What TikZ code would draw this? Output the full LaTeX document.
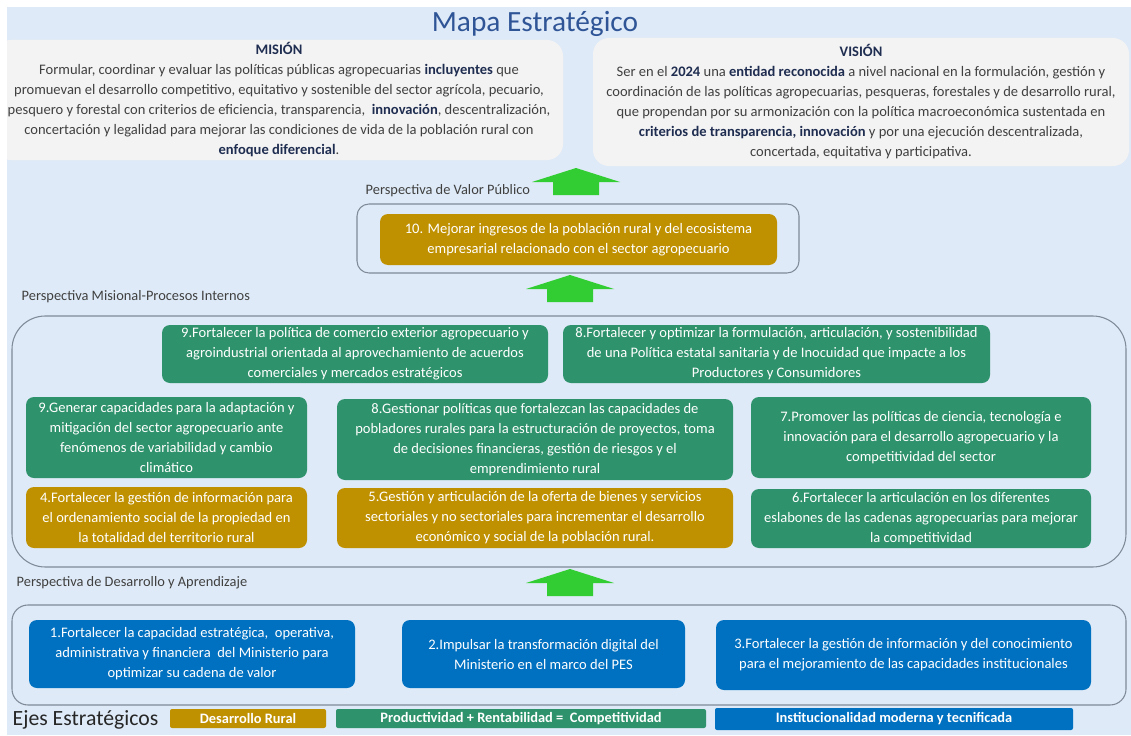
\documentclass[tikz,border=0pt]{standalone}
\usepackage{fontspec}
\setmainfont{Carlito}
\definecolor{fondo}{RGB}{222,234,247}
\definecolor{nube}{RGB}{243,243,244}
\definecolor{oro}{RGB}{191,144,0}
\definecolor{verde}{RGB}{46,146,108}
\definecolor{azul}{RGB}{0,112,192}
\definecolor{flecha}{RGB}{50,205,50}
\definecolor{marcogris}{RGB}{128,138,152}
\definecolor{titulo}{RGB}{47,85,151}
\definecolor{gristexto}{RGB}{64,64,64}
\definecolor{tinta}{RGB}{31,45,80}
\newcommand{\resalta}[1]{\textbf{\color{tinta}#1}}
\begin{document}
\begin{tikzpicture}[x=0.75pt,y=-0.75pt,
  caja/.style={rounded corners=6pt,text=white,align=center,inner sep=0pt,
    font=\fontsize{10.9}{15}\selectfont},
  oro/.style={caja,fill=oro},
  verde/.style={caja,fill=verde},
  azul/.style={caja,fill=azul},
  nube/.style={fill=nube,rounded corners=12pt,align=center,inner sep=0pt,
    text=gristexto,font=\fontsize{10.9}{15}\selectfont},
  marco/.style={draw=marcogris,line width=0.8pt},
  perspectiva/.style={anchor=west,text=gristexto,font=\fontsize{10.8}{12}\selectfont},
  eje/.style={text=white,inner sep=0pt,rounded corners=1.5pt,
    font=\bfseries\fontsize{10.8}{11}\selectfont}]
\useasboundingbox (0,0) rectangle (1131,735);
\fill[white] (0,0) rectangle (1131,735);
\begin{scope}
\clip (7,7) rectangle (1131,735);
\fill[fondo] (7,7) rectangle (1131,735);

% titulo, mision y vision
\node[text=titulo,font=\fontsize{22}{24}\selectfont] (titulo) at (535,24) {Mapa Estratégico};
\node[nube,minimum width=426pt,minimum height=90pt] (mision) at (279,100)
  {\textbf{\color{tinta}MISIÓN}\\
   Formular, coordinar y evaluar las políticas públicas agropecuarias \resalta{incluyentes} que\\
   promuevan el desarrollo competitivo, equitativo y sostenible del sector agrícola, pecuario,\\
   pesquero y forestal con criterios de eficiencia, transparencia,\ \ \resalta{innovación}, descentralización,\\
   concertación y legalidad para mejorar las condiciones de vida de la población rural con\\
   \resalta{enfoque diferencial}.};
\node[nube,minimum width=402pt,minimum height=96pt] (vision) at (861,102)
  {\textbf{\color{tinta}VISIÓN}\\
   Ser en el \resalta{2024} una \resalta{entidad reconocida} a nivel nacional en la formulación, gestión y\\
   coordinación de las políticas agropecuarias, pesqueras, forestales y de desarrollo rural,\\
   que propendan por su armonización con la política macroeconómica sustentada en\\
   \resalta{criterios de transparencia, innovación} y por una ejecución descentralizada,\\
   concertada, equitativa y participativa.};

% flechas verdes
\foreach \ax/\ay in {576/168,570/275,570/569}
  \fill[flecha] (\ax,\ay) -- ++(44,14) -- ++(-21,0) -- ++(0,13) -- ++(-46,0)
    -- ++(0,-13) -- ++(-21,0) -- cycle;

% perspectiva de valor publico
\node[perspectiva] (pvalor) at (361,191) {Perspectiva de Valor Público};
\node[marco,rounded corners=9pt,minimum width=331.5pt,minimum height=51.75pt] (valor) at (578,238.5) {};
\node[oro,minimum width=297.75pt,minimum height=38.25pt] (obj10) at (578.5,239.5)
  {10. Mejorar ingresos de la población rural y del ecosistema\\
   empresarial relacionado con el sector agropecuario};

% perspectiva misional
\node[perspectiva] (pmisional) at (17,297) {Perspectiva Misional-Procesos Internos};
\node[marco,rounded corners=25pt,minimum width=835.5pt,minimum height=188.25pt] (misional) at (569,441.5) {};
\node[verde,minimum width=289.5pt,minimum height=43.5pt] (obj9c) at (355,354)
  {9.Fortalecer la política de comercio exterior agropecuario y\\
   agroindustrial orientada al aprovechamiento de acuerdos\\
   comerciales y mercados estratégicos};
\node[verde,minimum width=320.25pt,minimum height=43.5pt] (obj8s) at (776.5,354)
  {8.Fortalecer y optimizar la formulación, articulación, y sostenibilidad\\
   de una Política estatal sanitaria y de Inocuidad que impacte a los\\
   Productores y Consumidores};
\node[verde,minimum width=210.75pt,minimum height=60.75pt] (obj9a) at (166.5,437.5)
  {9.Generar capacidades para la adaptación y\\
   mitigación del sector agropecuario ante\\
   fenómenos de variabilidad y cambio\\
   climático};
\node[verde,minimum width=297pt,minimum height=60.75pt] (obj8g) at (535,439.5)
  {8.Gestionar políticas que fortalezcan las capacidades de\\
   pobladores rurales para la estructuración de proyectos, toma\\
   de decisiones financieras, gestión de riesgos y el\\
   emprendimiento rural};
\node[verde,minimum width=255pt,minimum height=60.75pt] (obj7) at (921,437.5)
  {7.Promover las políticas de ciencia, tecnología e\\
   innovación para el desarrollo agropecuario y la\\
   competitividad del sector};
\node[oro,minimum width=210.75pt,minimum height=45.75pt] (obj4) at (166.5,517.5)
  {4.Fortalecer la gestión de información para\\
   el ordenamiento social de la propiedad en\\
   la totalidad del territorio rural};
\node[oro,minimum width=297pt,minimum height=45pt] (obj5) at (535,518)
  {5.Gestión y articulación de la oferta de bienes y servicios\\
   sectoriales y no sectoriales para incrementar el desarrollo\\
   económico y social de la población rural.};
\node[verde,minimum width=255pt,minimum height=44.25pt] (obj6) at (921,518.5)
  {6.Fortalecer la articulación en los diferentes\\
   eslabones de las cadenas agropecuarias para mejorar\\
   la competitividad};

% perspectiva de desarrollo y aprendizaje
\node[perspectiva] (pdesarrollo) at (12,583) {Perspectiva de Desarrollo y Aprendizaje};
\node[marco,rounded corners=12pt,minimum width=835.5pt,minimum height=75pt] (desarrollo) at (569,655) {};
\node[azul,minimum width=244.5pt,minimum height=51pt] (obj1) at (192,654)
  {1.Fortalecer la capacidad estratégica,\ \ operativa,\\
   administrativa y financiera\ \ del Ministerio para\\
   optimizar su cadena de valor};
\node[azul,minimum width=212.25pt,minimum height=51pt] (obj2) at (543.5,654)
  {2.Impulsar la transformación digital del\\
   Ministerio en el marco del PES};
\node[azul,minimum width=281.25pt,minimum height=52.5pt] (obj3) at (903.5,655)
  {3.Fortalecer la gestión de información y del conocimiento\\
   para el mejoramiento de las capacidades institucionales};

% ejes estrategicos
\node[anchor=west,text=black!85,font=\fontsize{16.3}{17}\selectfont] (ejes) at (8,720) {Ejes Estratégicos};
\node[eje,fill=oro,minimum width=117pt,minimum height=14.25pt] (eje1) at (248,718.5) {Desarrollo Rural};
\node[eje,fill=verde,minimum width=277.5pt,minimum height=14.25pt] (eje2) at (521,718.5)
  {Productividad + Rentabilidad =\ \ Competitividad};
\node[eje,fill=azul,minimum width=268.5pt,minimum height=16.5pt] (eje3) at (894,719)
  {Institucionalidad moderna y tecnificada};
\end{scope}
\end{tikzpicture}
\end{document}
